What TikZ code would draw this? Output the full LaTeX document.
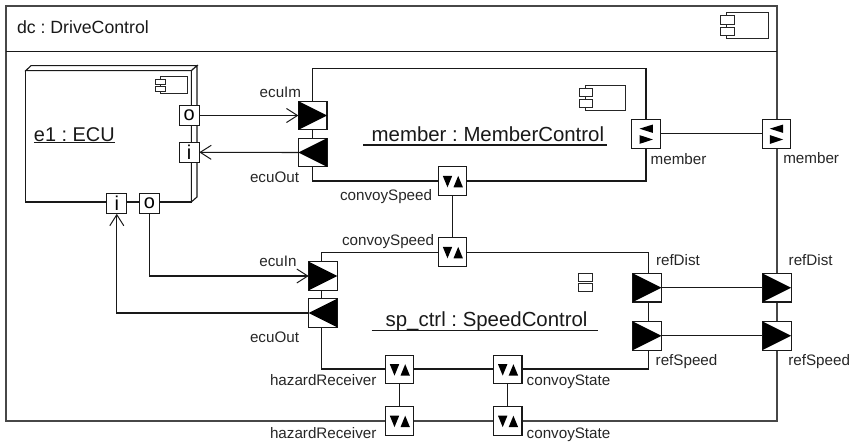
\documentclass[tikz,border=0pt]{standalone}
\usepackage{fontspec}
\setmainfont{Liberation Sans}
\usetikzlibrary{arrows.meta}
\frenchspacing
\tikzset{
  x=1pt,y=-1pt,
  frame/.style={draw=black!72,line width=1.5pt},
  body/.style={draw=black!90,line width=1.1pt,fill=white},
  wire/.style={draw=black!90,line width=1.1pt},
  openhead/.style={draw=black!90,line width=1.1pt,-{Straight Barb[length=11pt,width=14pt,line width=1pt]}},
  bigport/.style={draw=black!90,line width=1.1pt,fill=white,minimum size=28.6pt,inner sep=0pt,outer sep=0pt},
  ecuport/.style={draw=black!90,line width=1.1pt,fill=white,minimum size=20.2pt,inner sep=0pt,outer sep=0pt,font=\fontsize{20}{20}\selectfont},
  lab/.style={anchor=base west,inner sep=0pt,outer sep=0pt,text=black!85,font=\fontsize{15.2}{15.2}\selectfont},
  title/.style={anchor=base west,inner sep=0pt,outer sep=0pt,text=black!90,font=\fontsize{20.4}{20.4}\selectfont},
  iconline/.style={draw=black!85,line width=1pt,fill=white}
}
\newcommand{\inglyph}[1]{\fill[black] (#1.north west)--(#1.south west)--(#1.east)--cycle;}
\newcommand{\outglyph}[1]{\fill[black] (#1.north east)--(#1.south east)--(#1.west)--cycle;}
\newcommand{\biglyph}[1]{%
  \fill[black] ([shift={(-9.7,-5.3)}]#1.center)--++(9.4,0)--++(-4.7,11.4)--cycle;
  \fill[black] ([shift={(1,6.1)}]#1.center)--++(9.4,0)--++(-4.7,-11.4)--cycle;}
\newcommand{\memglyph}[1]{%
  \fill[black] ([shift={(6.7,-9.3)}]#1.center)--++(0,8.4)--++(-13.4,-4.2)--cycle;
  \fill[black] ([shift={(-6.7,1.3)}]#1.center)--++(0,8.8)--++(13.4,-4.4)--cycle;}
\begin{document}
\begin{tikzpicture}
\useasboundingbox (0,0) rectangle (852,444);
% outer component
\draw[frame] (6,5.8) rectangle (777.2,421);
\draw[wire] (6,51.7) -- (777.2,51.7);
\draw[iconline] (726,12.7) rectangle (768,39);
\draw[iconline] (720,16) rectangle (734,24.3);
\draw[iconline] (720,27.3) rectangle (734,35.3);
% ECU node
\draw[body] (25.7,70.7) rectangle (191.3,202);
\draw[body] (25.7,70.7) -- (31,65.7) -- (197,65.7) -- (191.3,70.7) -- cycle;
\draw[body] (191.3,70.7) -- (197,65.7) -- (197,197) -- (191.3,202) -- cycle;
\draw[iconline] (160,77) rectangle (187,94);
\draw[iconline] (155.7,79.5) rectangle (165,85);
\draw[iconline] (155.7,86.5) rectangle (165,92);
\node[title,font=\fontsize{19.9}{19.9}\selectfont] (e1t) at (34,141) {\underline{e1 : ECU}};
% member control
\draw[body] (312.7,68.7) rectangle (646,181);
\draw[iconline] (585.7,85.7) rectangle (625.3,110.3);
\draw[iconline] (579.3,88.7) rectangle (592.7,97);
\draw[iconline] (579.3,99.3) rectangle (592.7,107.7);
\node[title] (mt) at (371.7,141.7) {member : MemberControl};
\coordinate (mu1) at (363,145);
\coordinate (mu2) at (607,145);
\draw[wire] (mu1) -- (mu2);
% speed control
\draw[body] (321.3,252.3) rectangle (648.3,369);
\draw[iconline] (578.5,273) rectangle (592,281);
\draw[iconline] (578.5,283) rectangle (592,291);
\node[title] (st) at (385.7,326.7) {sp\_ctrl : SpeedControl};
\coordinate (su1) at (371.7,330.7);
\coordinate (su2) at (597.7,330.7);
\draw[wire] (su1) -- (su2);
% ports
\node[title,font=\fontsize{17.7}{17.7}\selectfont] (dc) at (17,33.3) {dc : DriveControl};
\node[ecuport] (eo) at (189.2,115.5) {o};
\node[ecuport] (ei) at (189.2,152.3) {i};
\node[ecuport] (bi) at (116.8,203.7) {i};
\node[ecuport] (bo) at (149.5,203.7) {o};
\node[bigport] (mIn) at (312.7,115.5) {};
\node[bigport] (mOut) at (312.7,152.5) {};
\node[bigport] (mCS) at (452.5,181.2) {};
\node[bigport] (sCS) at (452.5,252.2) {};
\node[bigport] (mM) at (646.2,133.8) {};
\node[bigport] (oM) at (776.5,133.8) {};
\node[bigport] (sIn) at (323,276) {};
\node[bigport] (sOut) at (323,313) {};
\node[bigport] (sD) at (647.2,287.7) {};
\node[bigport] (sS) at (647.2,335.8) {};
\node[bigport] (oD) at (776.8,287.7) {};
\node[bigport] (oS) at (776.8,335.8) {};
\node[bigport] (sH) at (399.5,369.5) {};
\node[bigport] (sC) at (507.7,369.5) {};
\node[bigport] (oH) at (399.5,421) {};
\node[bigport] (oC) at (507.7,421) {};
% glyphs
\inglyph{mIn}\outglyph{mOut}\inglyph{sIn}\outglyph{sOut}
\inglyph{sD}\inglyph{sS}\inglyph{oD}\inglyph{oS}
\biglyph{mCS}\biglyph{sCS}\biglyph{sH}\biglyph{sC}\biglyph{oH}\biglyph{oC}
\memglyph{mM}\memglyph{oM}
% connectors
\draw[openhead] (eo) -- (mIn);
\draw[openhead] (mOut) -- (ei);
\draw[openhead] (sOut) -| (bi);
\draw[openhead] (bo) |- (sIn);
\draw[wire] (mCS) -- (sCS);
\draw[wire] (mM) -- (oM);
\draw[wire] (sD) -- (oD);
\draw[wire] (sS) -- (oS);
\draw[wire] (sH) -- (oH);
\draw[wire] (sC) -- (oC);
% labels
\node[lab] (l1) at (259.7,97.7) {ecuIm};
\node[lab] (l2) at (250,182) {ecuOut};
\node[lab] (l3) at (340,200) {convoySpeed};
\node[lab] (l4) at (342,245) {convoySpeed};
\node[lab] (l5) at (259.3,266) {ecuIn};
\node[lab] (l6) at (250,342) {ecuOut};
\node[lab] (l7) at (270,385) {hazardReceiver};
\node[lab] (l8) at (270,438) {hazardReceiver};
\node[lab] (l9) at (526.7,385) {convoyState};
\node[lab] (l10) at (526.7,438) {convoyState};
\node[lab] (l11) at (650.7,164) {member};
\node[lab] (l12) at (783.3,163) {member};
\node[lab] (l13) at (656,265.7) {refDist};
\node[lab] (l14) at (788.7,265.7) {refDist};
\node[lab] (l15) at (655.7,365) {refSpeed};
\node[lab] (l16) at (788.3,365) {refSpeed};
\end{tikzpicture}
\end{document}
